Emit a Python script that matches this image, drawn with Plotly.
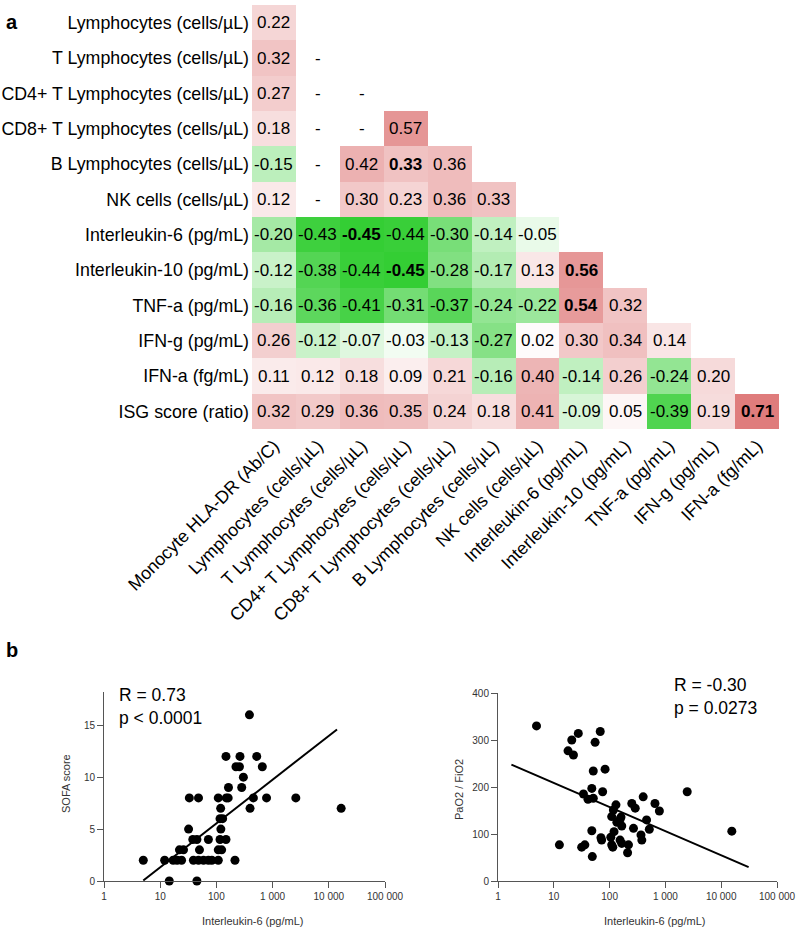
import plotly.graph_objects as go
import numpy as np

# ---------------- data: correlation matrix (panel a) ----------------
col_labels = [
    "Monocyte HLA-DR (Ab/C)", "Lymphocytes (cells/µL)", "T Lymphocytes (cells/µL)",
    "CD4+ T Lymphocytes (cells/µL)", "CD8+ T Lymphocytes (cells/µL)",
    "B Lymphocytes (cells/µL)", "NK cells (cells/µL)", "Interleukin-6 (pg/mL)",
    "Interleukin-10 (pg/mL)", "TNF-a (pg/mL)", "IFN-g (pg/mL)", "IFN-a (fg/mL)",
]
row_labels = [
    "Lymphocytes (cells/µL)", "T Lymphocytes (cells/µL)", "CD4+ T Lymphocytes (cells/µL)",
    "CD8+ T Lymphocytes (cells/µL)", "B Lymphocytes (cells/µL)", "NK cells (cells/µL)",
    "Interleukin-6 (pg/mL)", "Interleukin-10 (pg/mL)", "TNF-a (pg/mL)",
    "IFN-g (pg/mL)", "IFN-a (fg/mL)", "ISG score (ratio)",
]
# None = not computed ("-")
corr_rows = [
    [0.22],
    [0.32, None],
    [0.27, None, None],
    [0.18, None, None, 0.57],
    [-0.15, None, 0.42, 0.33, 0.36],
    [0.12, None, 0.30, 0.23, 0.36, 0.33],
    [-0.20, -0.43, -0.45, -0.44, -0.30, -0.14, -0.05],
    [-0.12, -0.38, -0.44, -0.45, -0.28, -0.17, 0.13, 0.56],
    [-0.16, -0.36, -0.41, -0.31, -0.37, -0.24, -0.22, 0.54, 0.32],
    [0.26, -0.12, -0.07, -0.03, -0.13, -0.27, 0.02, 0.30, 0.34, 0.14],
    [0.11, 0.12, 0.18, 0.09, 0.21, -0.16, 0.40, -0.14, 0.26, -0.24, 0.20],
    [0.32, 0.29, 0.36, 0.35, 0.24, 0.18, 0.41, -0.09, 0.05, -0.39, 0.19, 0.71],
]
bold_cells = [(4, 3), (6, 2), (7, 3), (7, 7), (8, 7), (11, 11)]

# ---------------- data: scatter (panel b) ----------------
il6_sofa = [387,
            148, 263, 522,
            223, 257, 656,
            302,
            164, 282,
            33, 48, 108, 150, 162, 455, 780, 2590,
            119, 397, 16600,
            116, 129,
            32, 120,
            38, 45, 72, 116, 148,
            22, 26, 50, 108, 124,
            5, 12, 17, 20, 24, 39, 48, 59, 72, 83, 108, 214,
            14.5, 45]
sofa = [16,
        12, 12, 12,
        11, 11, 11,
        10,
        9, 9,
        8, 8, 8, 8, 8, 8, 8, 8,
        7, 7, 7,
        6, 6,
        5, 5,
        4, 4, 4, 4, 4,
        3, 3, 3, 3, 3,
        2, 2, 2, 2, 2, 2, 2, 2, 2, 2, 2, 2,
        0, 0]
sofa_fit = {"intercept": -2.9, "slope": 4.22, "x_range": [5, 14000]}

il6_pf = [4.9, 12.6, 18, 21, 22.5, 27.5, 31.6, 36, 34, 41, 48, 51, 48, 49, 51, 55,
          68, 75, 83, 72, 70, 105, 109, 114, 109, 117, 130, 120, 154, 165, 154, 165,
          218, 210, 250, 288, 268, 365, 378, 400, 460, 515, 650, 780, 2460, 15500,
          135, 160]
pf_ratio = [330, 77, 277, 300, 268, 314, 72, 77, 185, 174, 197, 176, 107, 52, 234, 295,
            318, 190, 238, 87, 92, 93, 77, 72, 137, 151, 162, 105, 131, 117, 87, 80,
            77, 60, 165, 155, 112, 98, 87, 179, 130, 110, 165, 149, 190, 106,
            125, 136]
pf_fit = {"intercept": 260, "slope": -51.3, "x_range": [1.74, 31000]}

x_tickvals = [1, 10, 100, 1000, 10000, 100000]
x_ticktext = ["1", "10", "100", "1 000", "10 000", "100 000"]

# ---------------- build ----------------
W, H = 800, 929
FONT = "Liberation Sans, Arial, Helvetica, sans-serif"

def px_x(p):
    return p / W

def px_y(p):
    return 1 - p / H

n = len(row_labels)
m = len(col_labels)
z = [[None] * m for _ in range(n)]
for i, row in enumerate(corr_rows):
    for j, v in enumerate(row):
        z[i][j] = v

colorscale = [
    [0.0, "rgb(30,200,30)"],
    [1 / 3, "rgb(255,255,255)"],
    [1.0, "rgb(210,70,70)"],
]

fig = go.Figure()
fig.add_trace(go.Heatmap(
    z=z, x=col_labels, y=row_labels, colorscale=colorscale,
    zmin=-0.5, zmax=1.0, showscale=False, hoverinfo="skip",
    xaxis="x", yaxis="y",
))

annotations = []
for i, row in enumerate(corr_rows):
    for j, v in enumerate(row):
        if v is None:
            txt = "-"
        else:
            txt = f"{v:.2f}"
        if (i, j) in bold_cells:
            txt = f"<b>{txt}</b>"
        annotations.append(dict(
            x=col_labels[j], y=row_labels[i], xref="x", yref="y", text=txt,
            showarrow=False, font=dict(family=FONT, size=17, color="black"),
        ))

# scatter left
fig.add_trace(go.Scatter(
    x=il6_sofa, y=sofa, mode="markers", xaxis="x2", yaxis="y2",
    marker=dict(color="black", size=9), cliponaxis=False, hoverinfo="skip",
))
lx = np.array(sofa_fit["x_range"], dtype=float)
fig.add_trace(go.Scatter(
    x=lx, y=sofa_fit["intercept"] + sofa_fit["slope"] * np.log10(lx),
    mode="lines", line=dict(color="black", width=2), xaxis="x2", yaxis="y2",
    hoverinfo="skip",
))
# scatter right
fig.add_trace(go.Scatter(
    x=il6_pf, y=pf_ratio, mode="markers", xaxis="x3", yaxis="y3",
    marker=dict(color="black", size=9), cliponaxis=False, hoverinfo="skip",
))
rx = np.array(pf_fit["x_range"], dtype=float)
fig.add_trace(go.Scatter(
    x=rx, y=pf_fit["intercept"] + pf_fit["slope"] * np.log10(rx),
    mode="lines", line=dict(color="black", width=2), xaxis="x3", yaxis="y3",
    hoverinfo="skip",
))

axis_common = dict(
    showgrid=False, zeroline=False, showline=True, linecolor="#555", linewidth=1,
    ticks="outside", ticklen=6, tickcolor="#555",
    tickfont=dict(family=FONT, size=10, color="#333"), automargin=False,
)

fig.update_layout(
    width=W, height=H, margin=dict(l=0, r=0, t=0, b=0),
    paper_bgcolor="white", plot_bgcolor="white", showlegend=False,
    font=dict(family=FONT, color="black"), hovermode=False,
    xaxis=dict(domain=[px_x(252), px_x(779)], anchor="y", side="bottom",
               tickangle=-45, showgrid=False, zeroline=False, showline=False,
               ticks="", tickfont=dict(family=FONT, size=17.8, color="black"),
               automargin=False, ticklabelstandoff=2),
    yaxis=dict(domain=[px_y(429), px_y(5)], anchor="x", autorange="reversed",
               showgrid=False, zeroline=False, showline=False, ticks="",
               tickfont=dict(family=FONT, size=17.8, color="black"), automargin=False,
               ticklabelstandoff=2),
    xaxis2=dict(domain=[px_x(104), px_x(385)], anchor="y2", type="log", range=[0, 5],
                tickvals=x_tickvals, ticktext=x_ticktext, **axis_common),
    yaxis2=dict(domain=[px_y(881), px_y(692)], anchor="x2", range=[0, 18.2],
                tickvals=[0, 5, 10, 15], **axis_common),
    xaxis3=dict(domain=[px_x(498), px_x(777)], anchor="y3", type="log", range=[0, 5],
                tickvals=x_tickvals, ticktext=x_ticktext, **axis_common),
    yaxis3=dict(domain=[px_y(881), px_y(693)], anchor="x3", range=[0, 400],
                tickvals=[0, 100, 200, 300, 400], **axis_common),
)

def paper_text(text, x, y, size, xanchor="center", yanchor="middle", angle=0, color="black"):
    annotations.append(dict(
        text=text, x=px_x(x), y=px_y(y), xref="paper", yref="paper", showarrow=False,
        xanchor=xanchor, yanchor=yanchor, textangle=angle,
        font=dict(family=FONT, size=size, color=color),
    ))

paper_text("<b>a</b>", 4, 22, 20, xanchor="left")
paper_text("<b>b</b>", 4, 650, 20, xanchor="left")
paper_text("R = 0.73", 117, 695, 17.5, xanchor="left")
paper_text("p < 0.0001", 117, 718, 17.5, xanchor="left")
paper_text("R = -0.30", 672, 685, 17.5, xanchor="left")
paper_text("p = 0.0273", 672, 708, 17.5, xanchor="left")
paper_text("Interleukin-6 (pg/mL)", 253, 921, 11, color="#333")
paper_text("Interleukin-6 (pg/mL)", 655, 921, 11, color="#333")
paper_text("SOFA score", 66, 784, 11, angle=-90, color="#333")
paper_text("PaO2 / FiO2", 459, 790, 11, angle=-90, color="#333")

fig.update_layout(annotations=annotations)
fig.write_html(
    "out.html",
    config={"displayModeBar": False, "staticPlot": True},
    post_script="document.body.style.margin='0px';document.body.style.overflow='hidden';",
)
